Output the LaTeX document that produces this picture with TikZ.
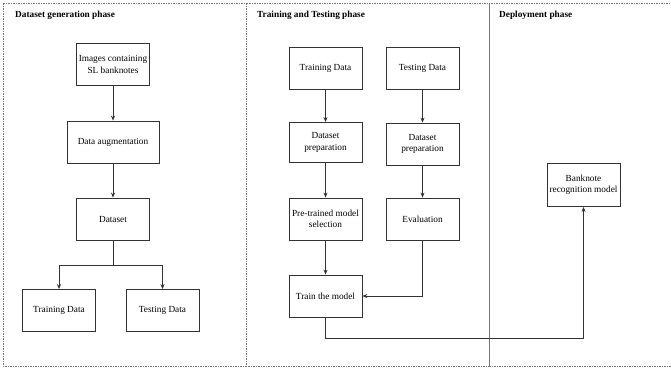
\documentclass[tikz,border=0pt]{standalone}
\usepackage{fontspec}
\setmainfont{Liberation Serif}
\usetikzlibrary{arrows.meta}
\definecolor{linec}{HTML}{333333}
\definecolor{panelc}{HTML}{777777}
\begin{document}
\begin{tikzpicture}[x=1pt,y=-1pt,
  boxnode/.style={draw=linec, line width=0.8pt, fill=white, minimum width=73pt, minimum height=42pt,
    align=center, font=\fontsize{9.3}{11.2}\selectfont, inner sep=1pt},
  conn/.style={draw=linec, line width=0.7pt, -{Stealth[length=5pt,width=4pt]}},
  plain/.style={draw=linec, line width=0.7pt},
  panel/.style={draw=panelc, line width=0.6pt, dash pattern=on 1.5pt off 1pt},
  ttl/.style={anchor=west, font=\bfseries\fontsize{9.3}{11}\selectfont, inner sep=0pt}]
\useasboundingbox (0,0) rectangle (671,368);
% panels
\draw[panel] (3,3) rectangle (246,366);
\draw[panel] (246,3) rectangle (489,366);
\draw[panel] (489,366) -- (489,3) -- (671,3);
\draw[panel] (489,366) -- (671,366);
\node[ttl] (t1) at (15,15) {Dataset generation phase};
\node[ttl] (t2) at (257,15) {Training and Testing phase};
\node[ttl] (t3) at (499,15) {Deployment phase};
% panel 1
\node[boxnode] (img) at (113,64.5) {Images containing\\SL banknotes};
\node[boxnode, minimum width=92pt] (aug) at (113,142) {Data augmentation};
\node[boxnode] (ds) at (113,219) {Dataset};
\node[boxnode] (tr1) at (59,310.5) {Training Data};
\node[boxnode] (te1) at (162.5,310.5) {Testing Data};
\coordinate (br) at (113,265);
\draw[conn] (img) -- (aug);
\draw[conn] (aug) -- (ds);
\draw[plain] (ds) -- (br);
\draw[conn] (br) -| (tr1);
\draw[conn] (br) -| (te1);
% panel 2
\node[boxnode] (tr2) at (325.5,68.5) {Training Data};
\node[boxnode] (te2) at (422.5,68.5) {Testing Data};
\node[boxnode, minimum height=40pt] (dp1) at (325.5,142.5) {Dataset\\preparation};
\node[boxnode] (dp2) at (422.5,144) {Dataset\\preparation};
\node[boxnode] (pre) at (325.5,219) {Pre-trained model\\selection};
\node[boxnode] (ev) at (422.5,219) {Evaluation};
\node[boxnode] (trm) at (325.5,296) {Train the model};
\draw[conn] (tr2) -- (dp1);
\draw[conn] (te2) -- (dp2);
\draw[conn] (dp1) -- (pre);
\draw[conn] (dp2) -- (ev);
\draw[conn] (pre) -- (trm);
\draw[conn] (ev) |- (trm);
% panel 3
\node[boxnode, minimum height=43pt] (bank) at (583.5,185) {Banknote\\recognition model};
\coordinate (lowturn) at (325.5,338);
\draw[conn] (trm) -- (lowturn) -| (bank);
\end{tikzpicture}
\end{document}
